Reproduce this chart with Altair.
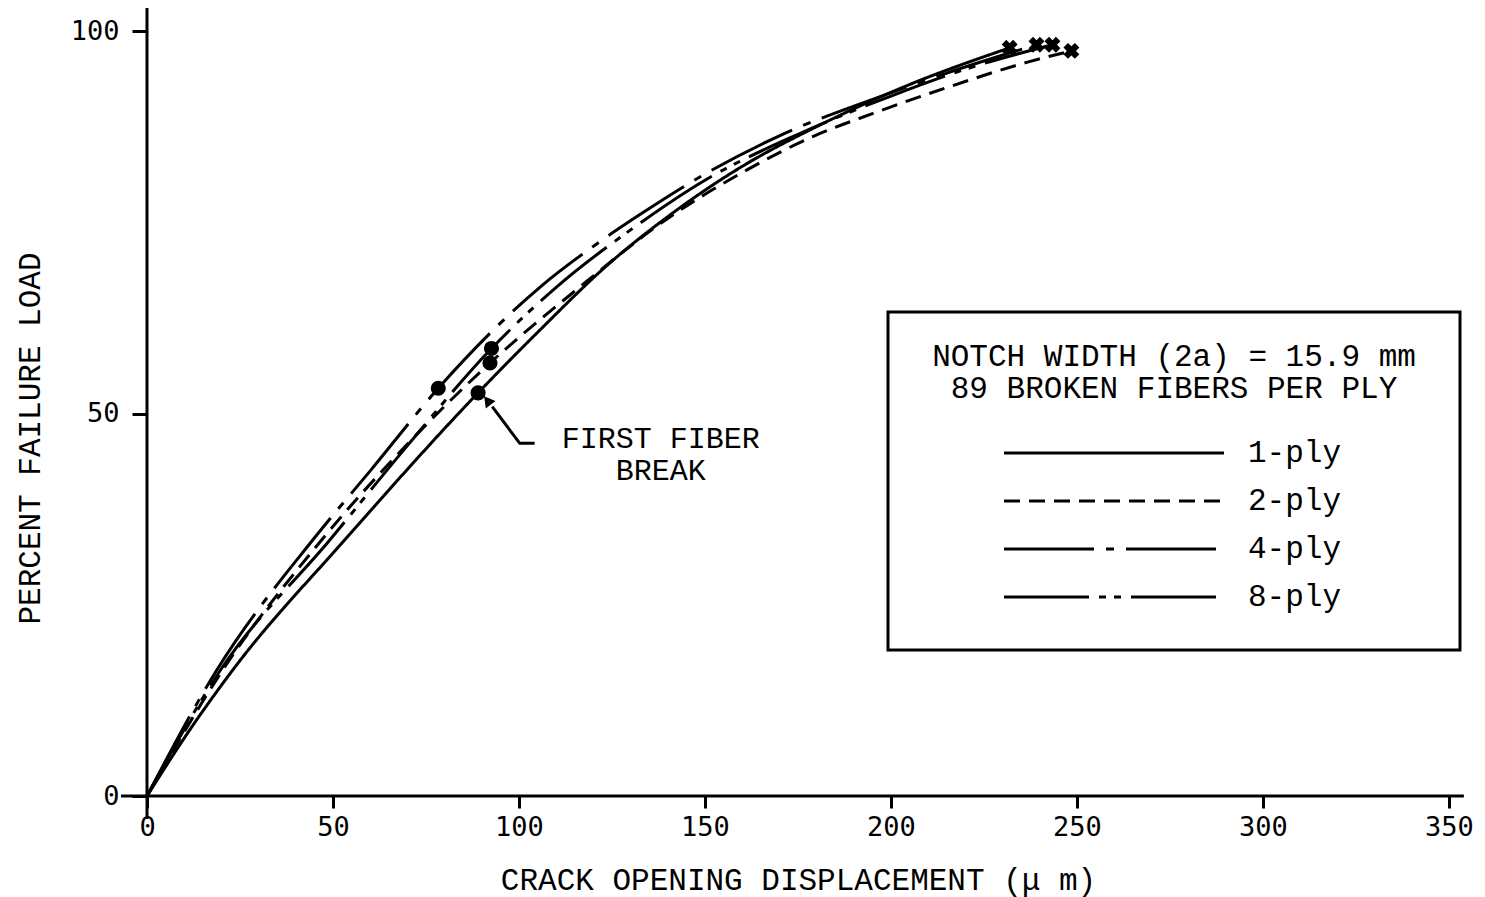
import altair as alt
import pandas as pd

# ---------------- data ----------------
SERIES = ["1-ply", "2-ply", "4-ply", "8-ply"]

ply1_x = [0, 12, 23.1, 53.2, 89.0, 105.6, 124, 141.3, 159.3, 180, 205, 231.9]
ply1_y = [0, 9.0, 16.5, 33.5, 52.7, 60.9, 69.5, 76.2, 82.1, 87.5, 93.0, 97.8]

ply2_x = [0, 20.4, 47, 70, 92.2, 115, 140, 160, 179, 195, 215, 237.2, 248.5]
ply2_y = [0, 16.5, 33.5, 46.0, 56.6, 66.0, 75.5, 81.5, 86.2, 89.2, 92.6, 96.0, 97.4]

ply4_x = [0, 18.8, 44.6, 60, 78.3, 105.6, 120.4, 132.5, 150, 170, 196.9, 215, 239.1]
ply4_y = [0, 16.5, 33.5, 42.5, 53.3, 66.5, 72.0, 76.0, 81.3, 86.3, 91.4, 94.5, 98.2]

ply8_x = [0, 19.8, 49.2, 70, 92.6, 110, 130, 150, 175, 200, 220, 243.4]
ply8_y = [0, 16.5, 33.5, 45.8, 58.5, 66.5, 74.0, 80.5, 86.5, 91.5, 95.0, 98.2]

# first fiber break points
break_series = ["1-ply", "2-ply", "4-ply", "8-ply"]
break_x = [89.0, 92.2, 78.3, 92.6]
break_y = [52.7, 56.6, 53.3, 58.5]

X_TICKS = [0, 50, 100, 150, 200, 250, 300, 350]
Y_TICKS = [0, 50, 100]
X_TITLE = "CRACK OPENING DISPLACEMENT (\u03bc m)"
Y_TITLE = "PERCENT FAILURE LOAD"
LEGEND_HEAD = ["NOTCH WIDTH (2a) = 15.9 mm", "89 BROKEN FIBERS PER PLY"]
ANNOT = ["FIRST FIBER", "BREAK"]

# ---------------- styles ----------------
DASHES = [[1, 0], [16, 9], [90, 12, 8, 12], [85, 10, 7, 8, 7, 10]]
MONO = "Liberation Mono"
TICKFONT = "DejaVu Sans Mono"
SW = 3

curves = {"1-ply": (ply1_x, ply1_y), "2-ply": (ply2_x, ply2_y),
          "4-ply": (ply4_x, ply4_y), "8-ply": (ply8_x, ply8_y)}
rows = []
for s in SERIES:
    xs, ys = curves[s]
    for i, (a, b) in enumerate(zip(xs, ys)):
        rows.append({"series": s, "x": a, "y": b, "idx": i})
curve_df = pd.DataFrame(rows)
end_df = pd.DataFrame([{"series": s, "x": curves[s][0][-1], "y": curves[s][1][-1]} for s in SERIES])
break_df = pd.DataFrame({"series": break_series, "x": break_x, "y": break_y})

one = pd.DataFrame({"a": [0]})

xscale = alt.Scale(domain=[0, 350], nice=False, zero=False)
yscale = alt.Scale(domain=[0, 100], nice=False, zero=False)

xaxis = alt.Axis(values=X_TICKS, title=X_TITLE, domain=False, grid=False,
                 tickSize=12, tickWidth=SW, tickColor="black",
                 labelFont=TICKFONT, labelFontSize=27, labelColor="black",
                 labelPadding=6, labelFlush=False, format="d",
                 titleFont=MONO, titleFontSize=31, titleFontWeight="normal",
                 titleColor="black", titleY=84, titleBaseline="middle")
yaxis = alt.Axis(values=Y_TICKS, title=Y_TITLE, domain=False, grid=False,
                 tickSize=15, tickWidth=SW, tickColor="black",
                 labelFont=TICKFONT, labelFontSize=27, labelColor="black",
                 labelPadding=13, labelFlush=False, format="d",
                 titleFont=MONO, titleFontSize=31, titleFontWeight="normal",
                 titleColor="black", titleX=-117, titleY=407, titleAngle=270,
                 titleAlign="center", titleBaseline="middle")

lines = alt.Chart(curve_df).mark_line(color="black", strokeWidth=SW, interpolate="monotone").encode(
    x=alt.X("x:Q", scale=xscale, axis=xaxis),
    y=alt.Y("y:Q", scale=yscale, axis=yaxis),
    strokeDash=alt.StrokeDash("series:N", scale=alt.Scale(domain=SERIES, range=DASHES), legend=None),
    detail="series:N",
    order="idx:Q",
)

ends = alt.Chart(end_df).mark_point(shape="cross", angle=45, filled=True, color="black",
                                     size=260, opacity=1).encode(x="x:Q", y="y:Q")
dots = alt.Chart(break_df).mark_circle(color="black", size=230, opacity=1).encode(x="x:Q", y="y:Q")

# axis lines (extended past the origin as in the reference)
xline = alt.Chart(one).mark_rule(color="black", strokeWidth=SW).encode(
    x=alt.datum(-7), x2=alt.datum(354), y=alt.datum(0))
yline = alt.Chart(one).mark_rule(color="black", strokeWidth=SW).encode(
    x=alt.datum(0), y=alt.datum(-3), y2=alt.datum(103))

# annotation: FIRST FIBER BREAK with arrow
arrow_df = pd.DataFrame({"x": [104.2, 100.2, 92.8], "y": [46.1, 46.1, 50.9], "k": [0, 1, 2]})
arrow = alt.Chart(arrow_df).mark_line(color="black", strokeWidth=SW).encode(
    x="x:Q", y="y:Q", order="k:Q")
head = alt.Chart(one).mark_point(shape="triangle-up", angle=322, filled=True, color="black",
                                  size=150, opacity=1).encode(x=alt.datum(91.5), y=alt.datum(51.7))
annots = []
for i, t in enumerate(ANNOT):
    annots.append(alt.Chart(one).mark_text(font=MONO, fontSize=30, align="center",
                                           baseline="middle", color="black").encode(
        x=alt.datum(138.1), y=alt.datum(46.7 - 4.2 * i), text=alt.value(t)))

# legend box (pixel positions relative to the plot area)
box = alt.Chart(one).mark_rect(fillOpacity=0, stroke="black", strokeWidth=SW).encode(
    x=alt.value(741), x2=alt.value(1313), y=alt.value(281), y2=alt.value(619))
heads = []
for i, t in enumerate(LEGEND_HEAD):
    heads.append(alt.Chart(one).mark_text(font=MONO, fontSize=31, align="center",
                                          baseline="middle", color="black").encode(
        x=alt.value(1027), y=alt.value(326 + 32 * i), text=alt.value(t)))
leg = []
for i, s in enumerate(SERIES):
    yy = 422 + 48 * i
    leg.append(alt.Chart(one).mark_rule(color="black", strokeWidth=SW, strokeDash=DASHES[i]).encode(
        x=alt.value(857), x2=alt.value(1077), y=alt.value(yy)))
    leg.append(alt.Chart(one).mark_text(font=MONO, fontSize=31, align="left",
                                        baseline="middle", color="black").encode(
        x=alt.value(1101), y=alt.value(yy), text=alt.value(s)))

chart = alt.layer(lines, xline, yline, ends, dots, arrow, head, *annots, box, *heads, *leg).properties(
    width=1302, height=765,
    padding={"left": 147, "top": 31, "right": 36, "bottom": 101},
    autosize="none",
    background="white",
).configure_view(stroke=None)

chart.save("out.html", embed_options={"renderer": "svg", "actions": False})
